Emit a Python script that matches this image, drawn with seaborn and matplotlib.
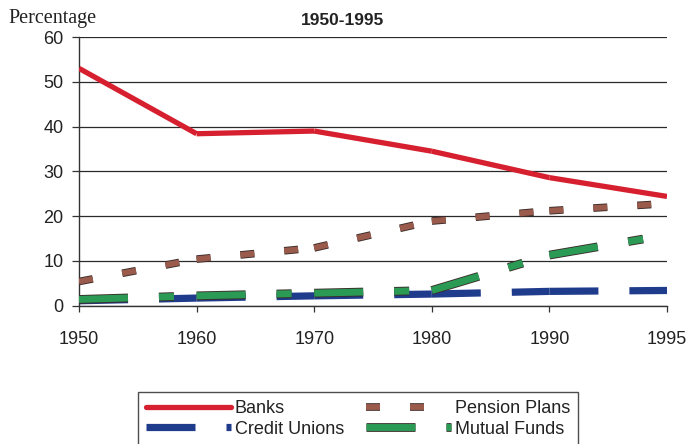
import matplotlib
matplotlib.use("Agg")
import matplotlib.pyplot as plt
import matplotlib.patheffects as pe
from matplotlib.lines import Line2D
import numpy as np
import pandas as pd
import seaborn as sns

# Share of financial assets held by each type of institution
years = ["1950", "1960", "1970", "1980", "1990", "1995"]
banks = [53.0, 38.4, 39.0, 34.5, 28.6, 24.4]
pension_plans = [5.4, 10.4, 12.9, 18.9, 21.2, 22.8]
credit_unions = [1.1, 1.7, 2.2, 2.6, 3.2, 3.4]
mutual_funds = [1.4, 2.2, 2.8, 3.4, 11.3, 15.8]

sns.set_theme(style="white")
plt.rcParams["font.family"] = ["Liberation Sans", "DejaVu Sans"]

DPI = 100
fig = plt.figure(figsize=(6.88, 4.44), dpi=DPI)
ax = fig.add_axes([79 / 688, 1 - 305.7 / 444, 588 / 688, 268.7 / 444])


def segments(values):
    """Long table with one unit per segment so each segment restarts its dash pattern."""
    rows = []
    for i in range(len(values) - 1):
        rows.append((i, values[i], i))
        rows.append((i + 1, values[i + 1], i))
    return pd.DataFrame(rows, columns=["pos", "value", "seg"])


def px_dash(lw_pt, offset_px, pattern_px):
    lw_px = lw_pt * DPI / 72
    return (offset_px / lw_px, tuple(p / lw_px for p in pattern_px))


outline = "#3a2c2a"
styles = {
    "Banks": dict(color="#d6202f", lw=3.8, ls="-", fx=None),
    "Credit Unions": dict(color="#1f3b8c", lw=5.2,
                          ls=px_dash(5.2, 37, (86, 31)), fx=None),
    "Pension Plans": dict(color="#9a5b4c", lw=4.2,
                          ls=px_dash(4.2, 0, (14, 30)), fx=outline),
    "Mutual Funds": dict(color="#2b9a55", lw=5.0,
                         ls=px_dash(5.0, 0, (49, 31, 15, 28)), fx=outline),
}
series = {
    "Credit Unions": credit_unions,
    "Mutual Funds": mutual_funds,
    "Pension Plans": pension_plans,
    "Banks": banks,
}

for name, vals in series.items():
    st = styles[name]
    effects = ([pe.withStroke(linewidth=st["lw"] + 1.3, foreground=st["fx"])]
               if st["fx"] else None)
    sns.lineplot(data=segments(vals), x="pos", y="value", units="seg",
                 estimator=None, ax=ax, color=st["color"], lw=st["lw"],
                 linestyle=st["ls"], dash_capstyle="butt",
                 solid_capstyle="butt", path_effects=effects, legend=False,
                 zorder=3)

ax.set_xlim(0, len(years) - 1)
ax.set_ylim(0, 60)
ax.set_xticks(range(len(years)))
ax.set_xticklabels(years)
ax.set_yticks(range(0, 61, 10))
ax.set_xlabel("")
ax.set_ylabel("")

ax.set_axisbelow(True)
ax.yaxis.grid(True, color="#2a2a2a", lw=0.9)
ax.xaxis.grid(False)
for side in ("top", "right"):
    ax.spines[side].set_visible(False)
for side in ("left", "bottom"):
    ax.spines[side].set_color("#333333")
    ax.spines[side].set_linewidth(1.0)

ax.tick_params(axis="y", which="major", direction="out", length=5, width=0.9,
               color="#333333", pad=6, labelsize=13, labelcolor="#222222", left=True)
ax.tick_params(axis="x", which="major", direction="out", length=4, width=0.9,
               color="#333333", pad=14, labelsize=13, labelcolor="#222222", bottom=True)

fig.text(8 / 688, 1 - 23 / 444, "Percentage", family="Liberation Serif",
         fontsize=14.5, ha="left", va="baseline", color="#222222")
fig.text(342 / 688, 1 - 25 / 444, "1950-1995", fontsize=12.5, fontweight="bold",
         ha="center", va="baseline", color="#222222")

handles = []
for name in ["Banks", "Credit Unions", "Pension Plans", "Mutual Funds"]:
    st = styles[name]
    effects = ([pe.withStroke(linewidth=st["lw"] + 1.3, foreground=st["fx"])]
               if st["fx"] else None)
    handles.append(Line2D([], [], color=st["color"], lw=st["lw"], linestyle=st["ls"],
                          dash_capstyle="butt", path_effects=effects, label=name))

leg = fig.legend(handles=handles, ncol=2, loc="upper left",
                 bbox_to_anchor=(138 / 688, 1 - 392 / 444), borderaxespad=0,
                 fontsize=13, handlelength=4.7, handletextpad=0.22,
                 columnspacing=1.2, labelspacing=0.2, borderpad=0.45,
                 frameon=True, fancybox=False, shadow=False)
leg.get_frame().set_edgecolor("#222222")
leg.get_frame().set_linewidth(1.0)
for t in leg.get_texts():
    t.set_color("#222222")

fig.savefig("out.png", dpi=DPI)
